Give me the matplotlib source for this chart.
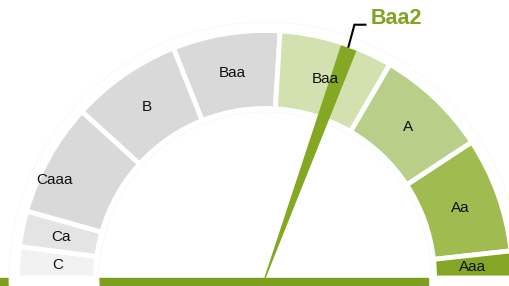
import numpy as np
import matplotlib
matplotlib.use("Agg")
from matplotlib import pyplot as plt
from matplotlib.patches import Wedge, Rectangle, Polygon

# rating bands on the dial, left to right, with the arc each one takes (degrees)
ratings = ["C", "Ca", "Caaa", "B", "Baa", "Baa", "A", "Aa", "Aaa"]
spans = [7.3, 8.4, 26.6, 26.0, 25.2, 26.8, 26.4, 27.0, 6.3]
colors = ["#f2f2f2", "#e4e4e4", "#d9d9d9", "#d9d9d9", "#d9d9d9",
          "#d3e1b0", "#b9cf89", "#a0bb4f", "#84a625"]

# needle position (degrees from the left end of the dial) and its label
needleAngle = 110.0
needleLabel = "Baa2"

green = "#80a41f"

# Set up a plain axes in pixel units, y going up
fig = plt.figure(figsize=(5.09, 2.86), dpi=100)
ax = fig.add_axes([0, 0, 1, 1])
ax.set_xlim(0, 509)
ax.set_ylim(0, 286)
ax.axis("off")

cx, cy = 265, 8
rOut, rIn = 247.5, 169.5

# Green base bar, partly hidden behind the white ring of the gauge
ax.add_patch(Rectangle((0, 0), 428, 8, color="#7c9f1e", zorder=1))
ax.add_patch(Wedge((cx, cy), 256, -12, 192, width=90, facecolor="white",
                   edgecolor="#f8f8f8", linewidth=0.6, zorder=2))

# Draw each band as a wedge, white edges make the gaps
start = 0.0
for name, span, col in zip(ratings, spans, colors):
    t1 = 180 - start - span
    t2 = 180 - start
    ax.add_patch(Wedge((cx, cy), rOut, t1, t2, width=rOut - rIn, facecolor=col,
                       edgecolor="white", linewidth=3.5, zorder=3))
    mid = np.radians(180 - start - span / 2)
    r = 208
    # the Caaa label sits further out in the original
    if name == "Caaa":
        mid = np.radians(180 - 25)
        r = 232
    ax.text(cx + r * np.cos(mid), cy + r * np.sin(mid), name, ha="center", va="center",
            fontsize=11, family="Liberation Sans", color="#111111", zorder=7)
    start += span

# Needle: thin triangle from the centre out to the rim
th = np.radians(180 - needleAngle)
length = 244
halfW = 7.5
tip = np.array([cx + length * np.cos(th), cy + length * np.sin(th)])
perp = np.array([-np.sin(th), np.cos(th)])
ax.add_patch(Polygon([[cx, cy], tip + perp * halfW, tip - perp * halfW],
                     closed=True, color="#84a824", zorder=5))

# Leader line and label
ax.plot([tip[0], tip[0] + 6, tip[0] + 17], [tip[1] + 2, tip[1] + 24, tip[1] + 24],
        color="black", linewidth=1.5, zorder=6, solid_joinstyle="miter")
ax.text(tip[0] + 22, tip[1] + 30, needleLabel, ha="left", va="center", fontsize=15.5,
        fontweight="bold", family="Liberation Sans", color=green, zorder=6)

plt.savefig("out.png", dpi=100)
